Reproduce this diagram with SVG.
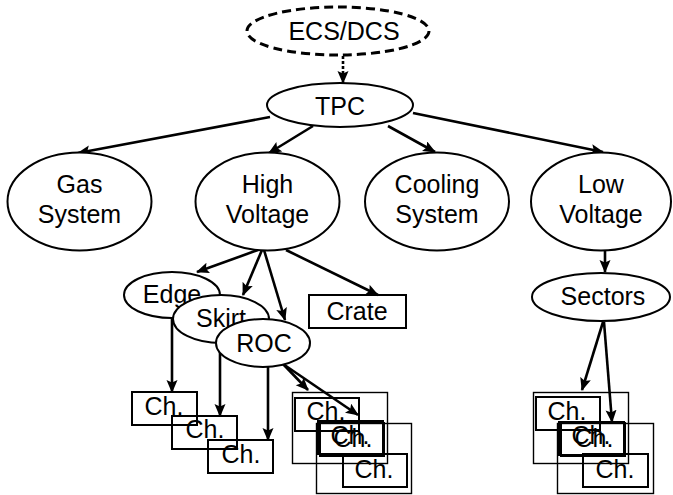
<svg xmlns="http://www.w3.org/2000/svg" width="673" height="495" viewBox="0 0 673 495">
<style>
.lbl{font-family:"Liberation Sans",Arial,sans-serif;font-size:25px;fill:#000;text-anchor:middle}
.el{fill:#fff;stroke:#000;stroke-width:2}
.box{fill:none;stroke:#000;stroke-width:2}
.frame{fill:none;stroke:#000;stroke-width:1.4}
.con{fill:none;stroke:#000;stroke-width:2.6;marker-end:url(#ah)}
</style>
<defs>
<marker id="ah" markerUnits="userSpaceOnUse" markerWidth="13" markerHeight="12" refX="12" refY="5.5" orient="auto">
<path d="M0,0 L13,5.5 L0,11 L2.5,5.5 z" fill="#000"/>
</marker>
</defs>
<rect width="673" height="495" fill="#fff"/>
<g id="connectors">
<path class="con" d="M343,56 L343,83" stroke-dasharray="3,2" stroke-width="3"/>
<path class="con" d="M270,117 L78,153"/>
<path class="con" d="M313,126 L269,153"/>
<path class="con" d="M388,126 L435,152"/>
<path class="con" d="M413,113 L603,152"/>
<path class="con" d="M258,250 L197,272"/>
<path class="con" d="M262,250 L243,295"/>
<path class="con" d="M264,250 L285,320"/>
<path class="con" d="M286,250 L378,295"/>
<path class="con" d="M605,250 L605,272"/>
<path class="con" d="M172,318 L172,392"/>
<path class="con" d="M220,343 L220,416"/>
<path class="con" d="M268,367 L268,440"/>
<path class="con" d="M283,364 L308,390"/>
<path class="con" d="M283,364 L358,415"/>
<path class="con" d="M603,322 L582,390"/>
<path class="con" d="M604,322 L612,422"/>
</g>
<g id="ecsdcs">
<ellipse cx="338" cy="31" rx="91" ry="24" fill="#fff" stroke="#000" stroke-width="3" stroke-dasharray="9,5"/>
<text class="lbl" x="344" y="40">ECS/DCS</text>
</g>
<g id="tpc">
<ellipse class="el" cx="340" cy="105" rx="73" ry="22"/>
<text class="lbl" x="340" y="115">TPC</text>
</g>
<g id="gas">
<ellipse class="el" cx="79.5" cy="201.5" rx="72" ry="49"/>
<text class="lbl" x="79.5" y="193">Gas</text>
<text class="lbl" x="79.5" y="223">System</text>
</g>
<g id="hv">
<ellipse class="el" cx="267.5" cy="201.5" rx="72" ry="49"/>
<text class="lbl" x="267.5" y="193">High</text>
<text class="lbl" x="267.5" y="223">Voltage</text>
</g>
<g id="cooling">
<ellipse class="el" cx="437" cy="201.5" rx="72" ry="49"/>
<text class="lbl" x="437" y="193">Cooling</text>
<text class="lbl" x="437" y="223">System</text>
</g>
<g id="lv">
<ellipse class="el" cx="601" cy="201.5" rx="70" ry="49"/>
<text class="lbl" x="601" y="193">Low</text>
<text class="lbl" x="601" y="223">Voltage</text>
</g>
<g id="edge">
<ellipse class="el" cx="172" cy="295" rx="48" ry="23"/>
<text class="lbl" x="172" y="303">Edge</text>
</g>
<g id="skirt">
<ellipse class="el" cx="221" cy="319" rx="48" ry="24"/>
<text class="lbl" x="221" y="327">Skirt</text>
</g>
<g id="roc">
<ellipse class="el" cx="263" cy="343" rx="47" ry="24"/>
<text class="lbl" x="264" y="352">ROC</text>
</g>
<g id="crate">
<rect class="box" x="309" y="295" width="97" height="33"/>
<text class="lbl" x="357" y="320">Crate</text>
</g>
<g id="sectors">
<ellipse class="el" cx="601" cy="297" rx="69" ry="24"/>
<text class="lbl" x="603" y="305">Sectors</text>
</g>
<g id="ch-edge">
<rect class="box" x="132" y="392" width="65" height="33"/>
<text class="lbl" x="164" y="415">Ch.</text>
</g>
<g id="ch-skirt">
<rect class="box" x="172" y="416" width="65" height="33"/>
<text class="lbl" x="205" y="438">Ch.</text>
</g>
<g id="ch-roc">
<rect class="box" x="208" y="440" width="65" height="33"/>
<text class="lbl" x="241" y="463">Ch.</text>
</g>
<g id="ch-roc-stack1">
<rect class="frame" x="292.5" y="392.5" width="95" height="71"/>
<rect class="box" x="295" y="398" width="64" height="33"/>
<text class="lbl" x="326" y="420">Ch.</text>
<rect class="box" x="318" y="421" width="65" height="33"/>
<text class="lbl" x="350" y="444">Ch.</text>
</g>
<g id="ch-roc-stack2">
<rect class="frame" x="316.5" y="423.5" width="95" height="70"/>
<rect class="box" x="320" y="423" width="64" height="33"/>
<text class="lbl" x="353" y="447">Ch.</text>
<rect class="box" x="343" y="454" width="64" height="33"/>
<text class="lbl" x="374" y="478">Ch.</text>
</g>
<g id="ch-sec-stack1">
<rect class="frame" x="533.5" y="392.5" width="95" height="71"/>
<rect class="box" x="536" y="397" width="64" height="33"/>
<text class="lbl" x="567" y="420">Ch.</text>
<rect class="box" x="559" y="422" width="65" height="33"/>
<text class="lbl" x="591" y="444">Ch.</text>
</g>
<g id="ch-sec-stack2">
<rect class="frame" x="557.5" y="423.5" width="96" height="70"/>
<rect class="box" x="561" y="423" width="64" height="33"/>
<text class="lbl" x="594" y="447">Ch.</text>
<rect class="box" x="583" y="454" width="65" height="33"/>
<text class="lbl" x="615" y="478">Ch.</text>
</g>
</svg>
